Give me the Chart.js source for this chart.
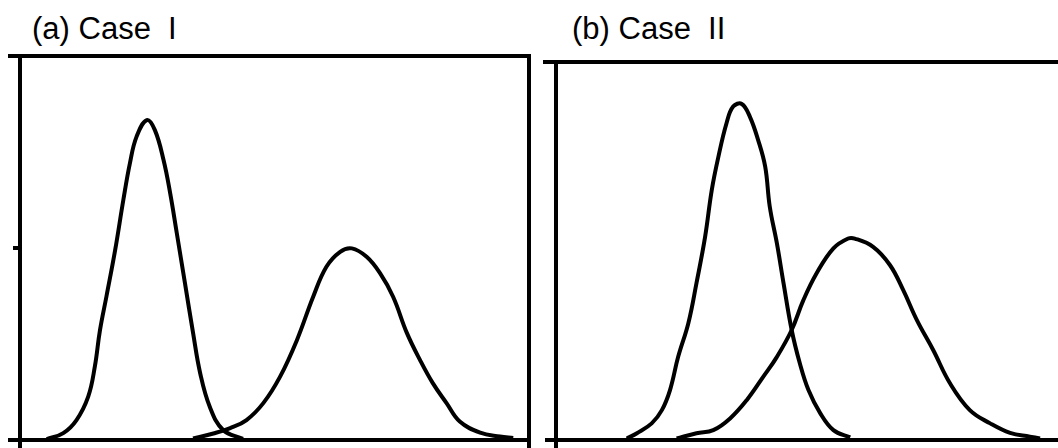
<!DOCTYPE html>
<html>
<head>
<meta charset="utf-8">
<script src="https://cdn.jsdelivr.net/npm/chart.js@4/dist/chart.umd.min.js"></script>
<style>
  html, body { margin: 0; padding: 0; background: #fff; overflow: hidden; width: 1058px; height: 448px; }
  .panel { position: absolute; top: 0; }
  .title { position: absolute; font-family: "Liberation Sans", Arial, sans-serif; font-size: 31px; color: #000; white-space: pre; line-height: 1; }
</style>
</head>
<body>
<div class="title" style="left:32px; top:13px;">(a) Case  I</div>
<div class="title" style="left:572px; top:13px;">(b) Case  II</div>
<canvas id="caseOne" class="panel" width="540" height="448" style="left:0px"></canvas>
<canvas id="caseTwo" class="panel" width="540" height="448" style="left:530px"></canvas>
<script>
// Case I: two well separated distributions
const caseOneNarrowX = [5.25, 8.5, 11.1, 13.4, 14.7, 15.7, 17.0, 18.7, 20.3, 21.6, 22.9, 24.9, 26.5, 28.2, 29.5, 30.8, 32.4, 34.0, 35.4, 37.3, 39.9, 43.8];
const caseOneNarrowY = [0.2, 1.8, 5.2, 11.3, 19.1, 28.5, 37.5, 49.5, 62.5, 72.1, 79.0, 83.3, 80.7, 72.9, 64.3, 53.9, 40.9, 27.9, 17.4, 8.6, 2.6, 0.3];
const caseOneWideX = [34.0, 38.0, 41.3, 44.5, 47.8, 51.1, 54.4, 57.6, 60.2, 62.9, 65.2, 68.1, 70.7, 73.3, 76.0, 78.6, 81.1, 83.8, 86.4, 90.4, 94.3, 96.9];
const caseOneWideY = [0.4, 1.7, 3.1, 5.2, 9.6, 16.5, 26.0, 37.3, 45.1, 49.0, 49.9, 47.7, 43.5, 37.3, 27.9, 20.8, 14.8, 9.6, 4.8, 1.9, 0.9, 0.5];

// Case II: overlapping distributions
const caseTwoNarrowX = [13.9, 15.9, 18.8, 20.8, 22.4, 24.0, 26.0, 27.6, 29.3, 30.6, 31.9, 33.5, 34.8, 36.5, 38.1, 39.7, 41.1, 42.0, 43.4, 44.7, 46.3, 47.9, 49.6, 51.9, 54.5, 57.8];
const caseTwoNarrowY = [0.4, 1.8, 4.4, 7.9, 13.2, 22.0, 30.9, 41.5, 53.8, 66.1, 74.9, 83.8, 88.2, 88.9, 85.5, 79.4, 72.3, 61.7, 52.0, 41.5, 29.1, 20.3, 13.2, 7.1, 2.6, 0.7];
const caseTwoWideX = [23.7, 27.6, 30.9, 34.2, 37.5, 40.7, 43.4, 46.3, 48.6, 51.2, 54.5, 57.4, 58.7, 62.3, 65.6, 68.2, 70.9, 74.1, 77.4, 81.3, 85.3, 89.2, 93.1, 95.1];
const caseTwoWideY = [0.4, 1.8, 2.6, 5.7, 10.6, 16.7, 22.0, 29.1, 37.0, 44.1, 50.7, 53.3, 53.3, 51.1, 46.3, 39.7, 31.7, 23.8, 15.0, 7.9, 4.4, 1.9, 0.9, 0.4];

const yTicks = [0, 50, 100];

function toPoints(xs, ys) {
  return xs.map((x, i) => ({ x: x, y: ys[i] }));
}

// draws the plot frame: top edge, axes carried past the corner, tick marks
const frame = {
  id: 'frame',
  afterDraw(chart, args, opts) {
    const { ctx, chartArea: { left, right, top, bottom } } = chart;
    const yScale = chart.scales.y;
    ctx.save();
    ctx.strokeStyle = '#000';
    ctx.lineWidth = 4;
    ctx.beginPath();
    ctx.moveTo(left - opts.topOver, top);
    ctx.lineTo(right + 2, top);
    ctx.moveTo(left - opts.bottomOver, bottom);
    ctx.lineTo(right + 2, bottom);
    ctx.moveTo(left, top);
    ctx.lineTo(left, bottom + 8);
    if (opts.rightEdge) {
      ctx.moveTo(right, top);
      ctx.lineTo(right, bottom + 8);
    }
    opts.ticks.forEach((v) => {
      const py = yScale.getPixelForValue(v);
      ctx.moveTo(left - 7, py);
      ctx.lineTo(left, py);
    });
    ctx.stroke();
    ctx.restore();
  },
};

function makeChart(id, narrow, wide, padding, frameOpts) {
  const line = {
    borderColor: '#000',
    borderWidth: 4,
    pointRadius: 0,
    fill: false,
    tension: 0.4,
  };
  return new Chart(document.getElementById(id).getContext('2d'), {
    type: 'line',
    data: {
      datasets: [
        Object.assign({ data: narrow }, line),
        Object.assign({ data: wide }, line),
      ],
    },
    options: {
      responsive: false,
      animation: false,
      devicePixelRatio: 1,
      layout: { padding: padding },
      plugins: {
        legend: { display: false },
        tooltip: { enabled: false },
        frame: frameOpts,
      },
      scales: {
        x: { type: 'linear', min: 0, max: 100, display: false },
        y: { min: 0, max: 100, display: false },
      },
    },
    plugins: [frame],
  });
}

makeChart('caseOne',
  toPoints(caseOneNarrowX, caseOneNarrowY),
  toPoints(caseOneWideX, caseOneWideY),
  { left: 20, right: 11, top: 56, bottom: 8 },
  { topOver: 12, bottomOver: 12, rightEdge: true, ticks: [yTicks[1]] });

makeChart('caseTwo',
  toPoints(caseTwoNarrowX, caseTwoNarrowY),
  toPoints(caseTwoWideX, caseTwoWideY),
  { left: 26, right: 5, top: 62, bottom: 8 },
  { topOver: 13, bottomOver: 11, rightEdge: false, ticks: [] });
</script>
</body>
</html>
